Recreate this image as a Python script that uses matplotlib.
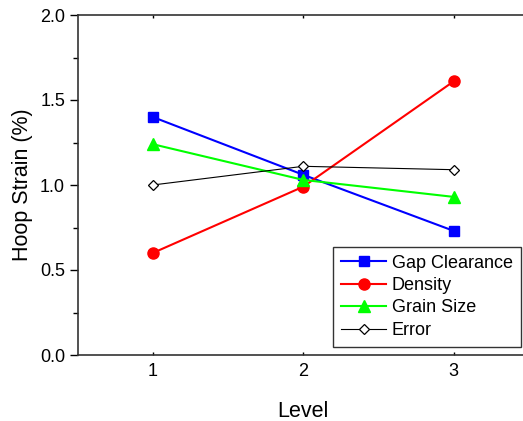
import matplotlib
matplotlib.use("Agg")
import matplotlib.pyplot as plt
from matplotlib.ticker import MultipleLocator

plt.rcParams['font.family'] = ['Liberation Sans', 'DejaVu Sans']

levels = [1, 2, 3]
gap_clearance = [1.40, 1.06, 0.73]
density = [0.60, 0.99, 1.61]
grain_size = [1.24, 1.03, 0.93]
error = [1.00, 1.11, 1.09]
x_ticks = [1, 2, 3]
y_ticks = [0.0, 0.5, 1.0, 1.5, 2.0]

W, H = 523, 421
fig = plt.figure(figsize=(W / 100, H / 100), dpi=100)
left, right, top, bottom = 77.5, 529, 15, 355
ax = fig.add_axes([left / W, 1 - bottom / H, (right - left) / W, (bottom - top) / H])

ax.plot(levels, gap_clearance, color='#0000ff', lw=1.5, marker='s', ms=7.5, label='Gap Clearance')
ax.plot(levels, density, color='#ff0000', lw=1.5, marker='o', ms=8, label='Density')
ax.plot(levels, grain_size, color='#00ff00', lw=1.5, marker='^', ms=9, label='Grain Size')
ax.plot(levels, error, color='black', lw=0.8, marker='D', ms=5.5, mfc='white', mec='black', mew=0.9, label='Error')

ax.set_xlim(0.5, 3.5)
ax.set_ylim(0.0, 2.0)
ax.set_xticks(x_ticks)
ax.set_yticks(y_ticks)
ax.set_yticklabels([f"{v:.1f}" for v in y_ticks])
ax.yaxis.set_minor_locator(MultipleLocator(0.25))
ax.tick_params(axis='both', which='major', direction='out', length=6, width=1, labelsize=13)
ax.tick_params(axis='x', which='major', pad=6)
ax.tick_params(axis='y', which='major', pad=3)
ax.tick_params(axis='y', which='minor', direction='out', length=3.5, width=1)
ax.tick_params(top=True, which='major', axis='x', direction='in', length=2)
ax.spines['right'].set_visible(False)
for s in ['left', 'bottom', 'top']:
    ax.spines[s].set_linewidth(1.2)
    ax.spines[s].set_color('#333333')

ax.set_xlabel('Level', fontsize=15.5, labelpad=15)
ax.set_ylabel('Hoop Strain (%)', fontsize=15.5, labelpad=5)

leg = ax.legend(loc='lower right', bbox_to_anchor=((521 - left) / (right - left), (bottom - 347) / (bottom - top)),
                fontsize=13, frameon=True, fancybox=False, edgecolor='black', borderpad=0.45,
                labelspacing=0.3, handlelength=2.5, handletextpad=0.3, borderaxespad=0)
leg.get_frame().set_linewidth(1.0)

fig.savefig('out.png', dpi=100)
